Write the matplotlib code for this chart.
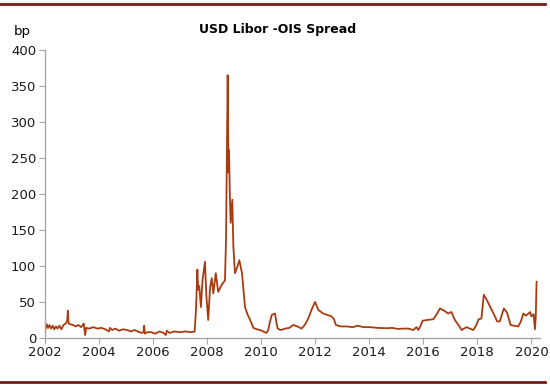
import matplotlib
matplotlib.use('Agg')
import matplotlib.pyplot as plt
from matplotlib.lines import Line2D

# dates as decimal years, spread in bp
years = [
    2002.00, 2002.04, 2002.08, 2002.13, 2002.18, 2002.24, 2002.30, 2002.36, 2002.42,
    2002.48, 2002.55, 2002.62, 2002.70, 2002.78, 2002.84, 2002.86, 2002.89, 2002.95,
    2003.05, 2003.15, 2003.25, 2003.35, 2003.45, 2003.50, 2003.54, 2003.65, 2003.80,
    2003.95, 2004.10, 2004.25, 2004.38, 2004.42, 2004.50, 2004.62, 2004.75, 2004.90,
    2005.05, 2005.20, 2005.32, 2005.45, 2005.58, 2005.66, 2005.68, 2005.71, 2005.80,
    2005.95, 2006.10, 2006.25, 2006.40, 2006.48, 2006.52, 2006.62, 2006.80, 2007.00,
    2007.20, 2007.40, 2007.55,
    2007.60, 2007.65, 2007.68, 2007.72, 2007.78, 2007.84, 2007.93, 2007.98, 2008.05,
    2008.12, 2008.18, 2008.24, 2008.33, 2008.42, 2008.55, 2008.67, 2008.71, 2008.74,
    2008.77, 2008.80, 2008.82, 2008.85, 2008.88, 2008.94, 2008.98, 2009.04, 2009.12,
    2009.20, 2009.30, 2009.41, 2009.50, 2009.60, 2009.72, 2009.85, 2009.97, 2010.08,
    2010.20, 2010.27, 2010.33, 2010.40, 2010.52, 2010.57, 2010.62, 2010.73, 2010.90,
    2011.05, 2011.19, 2011.35, 2011.50, 2011.62, 2011.75, 2011.88, 2012.00, 2012.12,
    2012.30, 2012.45, 2012.61, 2012.70, 2012.77, 2012.95, 2013.17, 2013.40, 2013.57,
    2013.80, 2014.03, 2014.30, 2014.65, 2014.85, 2015.07, 2015.26, 2015.45, 2015.63,
    2015.75, 2015.82, 2015.90, 2015.98, 2016.15, 2016.37, 2016.50, 2016.62, 2016.77,
    2016.92, 2017.04, 2017.17, 2017.30, 2017.42, 2017.60, 2017.85, 2017.95, 2018.05,
    2018.15, 2018.24, 2018.36, 2018.53, 2018.65, 2018.73, 2018.83, 2018.98, 2019.10,
    2019.23, 2019.35, 2019.51, 2019.60, 2019.70, 2019.80, 2019.95, 2020.00, 2020.08,
    2020.13, 2020.16, 2020.19,
]
spread_bp = [
    17, 12, 19, 14, 18, 13, 17, 12, 16,
    13, 17, 12, 18, 20, 24, 38, 20, 19,
    18, 16, 18, 15, 20, 4, 14, 13, 15,
    13, 14, 12, 9, 14, 11, 13, 10, 12,
    11, 9, 11, 9, 7, 8, 17, 6, 8,
    8, 6, 9, 7, 4, 10, 7, 9, 8,
    9, 8, 9,
    40, 95, 67, 72, 43, 80, 106, 60, 25,
    70, 83, 62, 90, 64, 74, 80, 139, 260,
    365, 230, 261, 200, 160, 192, 127, 90, 98,
    108, 90, 43, 33, 25, 14, 12, 11, 9,
    7, 11, 22, 32, 34, 22, 13, 11, 13,
    14, 18, 16, 13, 18, 27, 40, 50, 39,
    34, 32, 30, 26, 18, 16, 16, 15, 17,
    15, 15, 14, 13.5, 14, 12.5, 13, 13, 11,
    15, 11, 17, 24, 25, 26, 33, 41, 38,
    34, 36, 25, 18, 11, 15, 11, 17, 26,
    27, 60, 52, 39, 30, 23, 23, 41, 35,
    18, 17, 16, 22, 34, 31, 36, 30, 33,
    12, 30, 78,
]

title = 'USD Libor -OIS Spread'
x_ticks = list(range(2002, 2021, 2))
y_ticks = list(range(0, 401, 50))

fig = plt.figure(figsize=(5.5, 3.88), dpi=100)
ax = fig.add_axes([0.081, 0.129, 0.9, 0.742])

ax.plot(years, spread_bp, color='#A83C10', lw=1.3, solid_joinstyle='round')

ax.set_xlim(2002, 2020.3)
ax.set_ylim(0, 400)
ax.set_xticks(x_ticks)
ax.set_yticks(y_ticks)

for side in ['top', 'right']:
    ax.spines[side].set_visible(False)
for side in ['left', 'bottom']:
    ax.spines[side].set_color('#A6A6A6')
    ax.spines[side].set_linewidth(1.0)
ax.tick_params(direction='out', length=4, color='#A6A6A6', labelsize=9.5,
               labelcolor='#1a1a1a', pad=2)

fig.text(0.505, 0.925, title, ha='center', va='center', fontsize=9,
         fontweight='bold')
fig.text(0.025, 0.918, 'bp', ha='left', va='center', fontsize=9.5)

# dark red rules at top and bottom of the figure
fig.add_artist(Line2D([0.0, 0.99], [0.99, 0.99], color='#7B1A1A', lw=2))
fig.add_artist(Line2D([0.0, 0.99], [0.015, 0.015], color='#7B1A1A', lw=2))

fig.savefig('out.png', dpi=100)
